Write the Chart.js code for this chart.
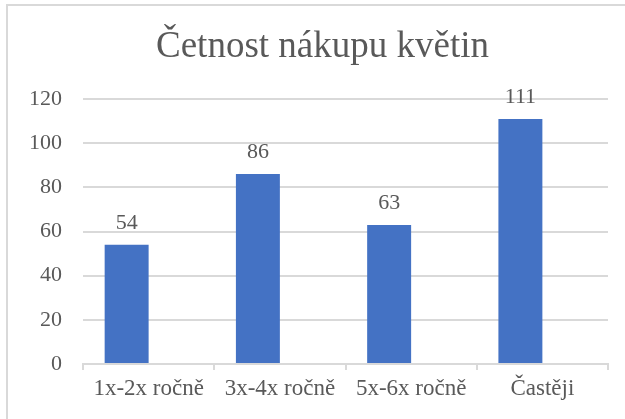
<!DOCTYPE html>
<html>
<head>
<meta charset="utf-8">
<script src="https://cdn.jsdelivr.net/npm/chart.js@4/dist/chart.umd.min.js"></script>
<style>
  html, body { margin: 0; padding: 0; background: #fff; overflow: hidden; }
  #wrap { position: relative; width: 625px; height: 419px; }
  #frame { position: absolute; left: 6px; top: 4px; width: 700px; height: 500px; border: 2px solid #D9D9D9; box-sizing: border-box; }
  #chart { position: absolute; left: 0; top: 0; }
</style>
</head>
<body>
<div id="wrap">
  <div id="frame"></div>
  <canvas id="chart" width="625" height="419"></canvas>
</div>
<script>
    "use strict";

    const categories = ["1x-2x ročně", "3x-4x ročně", "5x-6x ročně", "Častěji"];
    const counts = [54, 86, 63, 111];
    const emptySeries = [0, 0, 0, 0];
    const yTicks = [0, 20, 40, 60, 80, 100, 120];

    const textColor = "#595959";
    const lineColor = "#D9D9D9";
    const fontFamily = "'Liberation Serif', 'Times New Roman', serif";

    // labels above the bars of the first series
    const valueLabels = {
        id: "valueLabels",
        afterDatasetsDraw: (chart) => {
            const ctx = chart.ctx;
            const meta = chart.getDatasetMeta(0);
            ctx.save();
            ctx.font = "22px " + fontFamily;
            ctx.fillStyle = textColor;
            ctx.textAlign = "center";
            ctx.textBaseline = "alphabetic";
            meta.data.forEach((bar, i) => {
                ctx.fillText(String(counts[i]), bar.x, bar.y - 16);
            });
            ctx.restore();
        },
    };

    // title is centred on the whole frame, not only the plot width
    const titleShift = {
        id: "titleShift",
        afterLayout: (chart) => {
            if (chart.titleBlock) {
                chart.titleBlock.left = 20;
                chart.titleBlock.right = 625;
            }
        },
    };

    const ctx = document.getElementById("chart").getContext("2d");
    const chart = new Chart(ctx, {
        type: "bar",
        data: {
            labels: categories,
            datasets: [
                {
                    label: "Četnost",
                    data: counts,
                    backgroundColor: "#4472C4",
                    borderWidth: 0,
                },
                {
                    label: "",
                    data: emptySeries,
                    backgroundColor: "#4472C4",
                    borderWidth: 0,
                },
            ],
        },
        options: {
            responsive: false,
            animation: false,
            layout: {
                padding: { left: 0, top: 0, right: 17, bottom: 0 },
            },
            datasets: {
                bar: {
                    categoryPercentage: 0.67,
                    barPercentage: 1,
                },
            },
            plugins: {
                legend: { display: false },
                tooltip: { enabled: false },
                title: {
                    display: true,
                    text: "Četnost nákupu květin",
                    color: textColor,
                    font: { family: fontFamily, size: 37, weight: "normal", lineHeight: 1.2 },
                    padding: { top: 25, bottom: 29.6 },
                },
            },
            scales: {
                x: {
                    grid: {
                        display: true,
                        drawOnChartArea: false,
                        drawTicks: true,
                        tickLength: 6,
                        color: lineColor,
                        lineWidth: 2,
                        offset: true,
                    },
                    border: { display: true, color: lineColor, width: 2 },
                    ticks: {
                        color: textColor,
                        font: { family: fontFamily, size: 23 },
                        padding: 5,
                        maxRotation: 0,
                    },
                    afterFit: (scale) => {
                        scale.height = 55;
                    },
                },
                y: {
                    min: 0,
                    max: 120,
                    afterBuildTicks: (scale) => {
                        scale.ticks = yTicks.map((v) => ({ value: v }));
                    },
                    grid: {
                        color: lineColor,
                        lineWidth: 2,
                        drawTicks: false,
                    },
                    border: { display: false },
                    ticks: {
                        color: textColor,
                        font: { family: fontFamily, size: 22 },
                        padding: 21,
                    },
                    afterFit: (scale) => {
                        scale.width = 83;
                    },
                },
            },
        },
        plugins: [valueLabels, titleShift],
    });
</script>
</body>
</html>
